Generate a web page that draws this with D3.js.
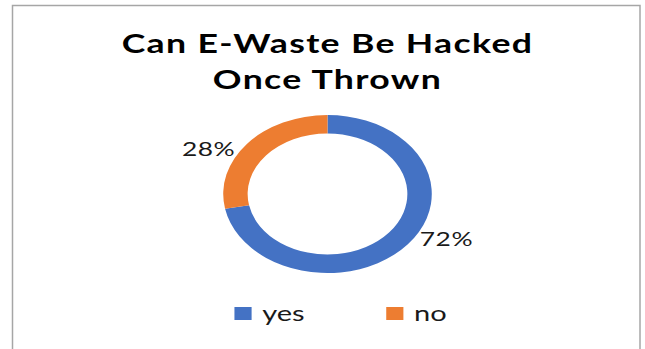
<!DOCTYPE html>
<html>
<head>
<meta charset="utf-8">
<script src="https://cdn.jsdelivr.net/npm/d3@7"></script>
<style>
  body { margin: 0; background: #fff; }
  svg { display: block; }
</style>
</head>
<body>
<svg id="drawing_region"></svg>
<script>
const titleLines = ["Can E-Waste Be Hacked", "Once Thrown"];
const categories = ["yes", "no"];
const values = [72, 28];
const colors = ["#4472C4", "#ED7D31"];

const width = 645, height = 349;
const cx = 327.5, cy = 194;
const sx = 1.32; // the picture is stretched sideways

const svg = d3.select("#drawing_region")
  .attr("width", width)
  .attr("height", height);

// frame
svg.append("rect")
  .attr("x", 12.5).attr("y", 5.5)
  .attr("width", 627.5).attr("height", height)
  .attr("fill", "none")
  .attr("stroke", "#a6a6a6")
  .attr("stroke-width", 1.5);

const g = svg.append("g")
  .attr("transform", `translate(${cx},0) scale(${sx},1)`);

// title
g.append("text")
  .attr("text-anchor", "middle")
  .attr("font-family", "Lato, 'Open Sans', sans-serif")
  .attr("font-weight", "bold")
  .attr("font-size", 27)
  .attr("letter-spacing", 1)
  .attr("fill", "#000")
  .selectAll("tspan")
  .data(titleLines)
  .join("tspan")
  .attr("x", 0)
  .attr("y", (d, i) => 53 + i * 36)
  .text(d => d);

// donut
const data = categories.map((c, i) => ({ label: c, value: values[i], color: colors[i] }));
const pie = d3.pie().sort(null).value(d => d.value);
const arcs = pie(data);
const outerR = 79, innerR = 60.5;
const arc = d3.arc().innerRadius(innerR).outerRadius(outerR);

const donut = g.append("g").attr("transform", `translate(0,${cy})`);
donut.selectAll("path")
  .data(arcs)
  .join("path")
  .attr("d", arc)
  .attr("fill", d => d.data.color);

// percentage labels just outside the ring
const total = d3.sum(values);
const outerArc = d3.arc().innerRadius(outerR).outerRadius(outerR);
donut.selectAll("text")
  .data(arcs)
  .join("text")
  .each(function(d) {
    const p = outerArc.centroid(d);
    const side = p[0] >= 0 ? 1 : -1;
    d3.select(this)
      .attr("x", p[0] + side * 9)
      .attr("y", p[1] * 0.9)
      .attr("dy", "0.35em")
      .attr("text-anchor", side > 0 ? "start" : "end");
  })
  .attr("font-family", "Lato, 'Open Sans', sans-serif")
  .attr("font-size", 20)
  .attr("letter-spacing", 0.4)
  .attr("fill", "#1a1a1a")
  .text(d => Math.round(d.data.value / total * 100) + "%");

// legend
const legendX = d3.scaleOrdinal().domain(categories).range([-70.5, 44.5]);
const legend = g.append("g").attr("transform", "translate(0,307)");
const item = legend.selectAll("g")
  .data(data)
  .join("g")
  .attr("transform", d => `translate(${legendX(d.label)},0)`);
item.append("rect")
  .attr("width", 13).attr("height", 13)
  .attr("fill", d => d.color);
item.append("text")
  .attr("x", 21)
  .attr("y", 14)
  .attr("font-family", "Lato, 'Open Sans', sans-serif")
  .attr("font-size", 22)
  .attr("fill", "#1a1a1a")
  .text(d => d.label);
</script>
</body>
</html>
